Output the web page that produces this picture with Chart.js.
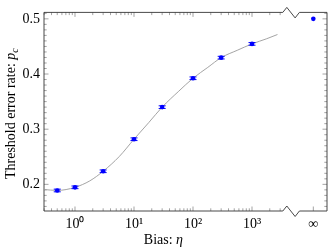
<!DOCTYPE html>
<html><head><meta charset="utf-8">
<script src="https://cdn.jsdelivr.net/npm/chart.js@4/dist/chart.umd.min.js"></script>
<style>html,body{margin:0;padding:0;background:#fff}</style>
</head><body>
<canvas id="c" width="335" height="250"></canvas>
<script>
// ---- data ----
const biasValues      = [0.5, 1, 3, 10, 30, 100, 300, 1000];
const thresholdRates  = [0.1889, 0.1946, 0.2237, 0.2818, 0.3400, 0.3923, 0.4297, 0.4546];
const thresholdErrors = [0.0024, 0.0024, 0.0024, 0.0024, 0.0024, 0.0024, 0.0024, 0.0024];
const infinityRate    = 0.5000;
const fitBias  = [0.3, 0.5, 1, 1.78, 3, 5.62, 10, 17.8, 30, 56.2, 100, 178, 300, 562, 1000, 1778, 2700];
const fitRates = [0.1906, 0.1890, 0.1946, 0.2063, 0.2237, 0.2504, 0.2818, 0.3120, 0.3400, 0.3680, 0.3923, 0.4120, 0.4297, 0.4430, 0.4546, 0.4640, 0.4716];
const xTickValues = [1, 10, 100, 1000];
const xTickLabels = ['10⁰', '10¹', '10²', '10³'];
const infinityLabel = '∞';
const yTickValues = [0.2, 0.3, 0.4, 0.5];
const INF_POSITION = 10940;   // axis position used for η = ∞ (after the break)
const BREAK_POSITION = 4600;  // axis position of the break
const X_MIN = 0.2983, X_MAX = 18660;
const Y_MIN = 0.1517, Y_MAX = 0.5117;
const yTitle = ['Threshold error rate: ', 'p', 'c'];
const xTitle = ['Bias: ', 'η'];

const FONT = 'Liberation Serif';
const FS = 14;

const pointData = biasValues.map((b, i) => ({x: b, y: thresholdRates[i]}));
const fitData = fitBias.map((b, i) => ({x: b, y: fitRates[i]}));

const decor = {
  id: 'decor',
  beforeDatasetsDraw(chart) {
    const ctx = chart.ctx, xs = chart.scales.x, ys = chart.scales.y;
    const {left, right, top, bottom} = chart.chartArea;
    const bx = xs.getPixelForValue(BREAK_POSITION);
    ctx.save();
    // ticks
    ctx.strokeStyle = '#666'; ctx.lineWidth = 0.6;
    const tick = (x1, y1, x2, y2) => { ctx.beginPath(); ctx.moveTo(x1, y1); ctx.lineTo(x2, y2); ctx.stroke(); };
    const MAJ = 4.5, MIN = 2.7;
    for (let k = -1; k <= 3; k++) {
      for (let m = 1; m <= 9; m++) {
        const v = m * Math.pow(10, k);
        if (v < X_MIN || v > BREAK_POSITION) continue;
        const px = xs.getPixelForValue(v);
        if (px > bx - 9) continue;
        const L = m === 1 ? MAJ : MIN;
        tick(px, bottom, px, bottom - L);
        tick(px, top, px, top + L);
      }
    }
    const ix = xs.getPixelForValue(INF_POSITION);
    tick(ix, bottom, ix, bottom - MAJ);
    for (let i = 16; i <= 51; i++) {
      const v = i / 100;
      if (v < Y_MIN || v > Y_MAX) continue;
      const py = ys.getPixelForValue(v);
      const L = i % 10 === 0 ? MAJ : MIN;
      tick(left, py, left + L, py);
      tick(right, py, right - L, py);
    }
    // frame with break
    ctx.strokeStyle = '#333'; ctx.lineWidth = 0.9;
    const edge = (y) => {
      ctx.beginPath();
      ctx.moveTo(left, y); ctx.lineTo(bx - 8.3, y);
      ctx.lineTo(bx - 4.3, y - 5); ctx.lineTo(bx + 4, y + 5.5); ctx.lineTo(bx + 8.3, y);
      ctx.lineTo(right, y); ctx.stroke();
    };
    edge(top); edge(bottom);
    ctx.beginPath(); ctx.moveTo(left, top); ctx.lineTo(left, bottom); ctx.stroke();
    ctx.beginPath(); ctx.moveTo(right, top); ctx.lineTo(right, bottom); ctx.stroke();

    // titles
    ctx.fillStyle = '#000';
    ctx.textBaseline = 'alphabetic';
    // x title
    ctx.font = FS + 'px "' + FONT + '"';
    const w1 = ctx.measureText(xTitle[0]).width;
    ctx.font = 'italic ' + FS + 'px "' + FONT + '"';
    const w2 = ctx.measureText(xTitle[1]).width;
    const cx = (left + bx - 8.3) / 2;
    let sx = cx - (w1 + w2) / 2;
    ctx.font = FS + 'px "' + FONT + '"';
    ctx.fillText(xTitle[0], sx, 243.5);
    ctx.font = 'italic ' + FS + 'px "' + FONT + '"';
    ctx.fillText(xTitle[1], sx + w1, 243.5);
    // y title
    ctx.save();
    ctx.translate(15, (top + bottom) / 2 + 2);
    ctx.rotate(-Math.PI / 2);
    ctx.font = FS + 'px "' + FONT + '"';
    const a = ctx.measureText(yTitle[0]).width;
    ctx.font = 'italic ' + FS + 'px "' + FONT + '"';
    const b = ctx.measureText(yTitle[1]).width;
    ctx.font = 'italic ' + (FS * 0.7) + 'px "' + FONT + '"';
    const c = ctx.measureText(yTitle[2]).width;
    let s = -(a + b + c) / 2;
    ctx.font = FS + 'px "' + FONT + '"';
    ctx.fillText(yTitle[0], s, 0);
    ctx.font = 'italic ' + FS + 'px "' + FONT + '"';
    ctx.fillText(yTitle[1], s + a, 0);
    ctx.font = 'italic ' + (FS * 0.7) + 'px "' + FONT + '"';
    ctx.fillText(yTitle[2], s + a + b, 2.5);
    ctx.restore();
    ctx.restore();
  },
  afterDatasetsDraw(chart) {
    const ctx = chart.ctx, xs = chart.scales.x, ys = chart.scales.y;
    ctx.save();
    ctx.strokeStyle = '#0000ff'; ctx.lineWidth = 1;
    biasValues.forEach((bv, i) => {
      const px = xs.getPixelForValue(bv);
      const y1 = ys.getPixelForValue(thresholdRates[i] - thresholdErrors[i]);
      const y2 = ys.getPixelForValue(thresholdRates[i] + thresholdErrors[i]);
      ctx.beginPath();
      ctx.moveTo(px, y1); ctx.lineTo(px, y2);
      ctx.moveTo(px - 3.5, y1); ctx.lineTo(px + 3.5, y1);
      ctx.moveTo(px - 3.5, y2); ctx.lineTo(px + 3.5, y2);
      ctx.stroke();
    });
    ctx.restore();
  }
};

new Chart(document.getElementById('c'), {
  type: 'scatter',
  data: {
    datasets: [
      { data: fitData, showLine: true, borderColor: '#9a9a9a', borderWidth: 0.9, pointRadius: 0, cubicInterpolationMode: 'monotone', order: 2 },
      { data: pointData, backgroundColor: '#0000ff', borderColor: '#0000ff', pointRadius: 2.3, borderWidth: 0, order: 1 },
      { data: [{x: INF_POSITION, y: infinityRate}], backgroundColor: '#0000ff', borderColor: '#0000ff', pointRadius: 2.3, borderWidth: 0, order: 1 }
    ]
  },
  options: {
    responsive: false, animation: false, devicePixelRatio: 1,
    layout: { padding: { top: 5, right: 8, left: 0, bottom: 0 } },
    plugins: { legend: { display: false }, tooltip: { enabled: false } },
    scales: {
      x: {
        type: 'logarithmic', min: X_MIN, max: X_MAX,
        grid: { display: false, drawTicks: false }, border: { display: false },
        afterBuildTicks: (s) => { s.ticks = xTickValues.concat([INF_POSITION]).map(v => ({value: v})); },
        afterFit: (s) => { s.height = 39; },
        ticks: {
          autoSkip: false, maxRotation: 0, padding: 5, color: '#000',
          font: { family: FONT, size: FS },
          callback: (v, i) => (i < xTickLabels.length ? xTickLabels[i] : infinityLabel)
        }
      },
      y: {
        min: Y_MIN, max: Y_MAX,
        grid: { display: false, drawTicks: false }, border: { display: false },
        afterBuildTicks: (s) => { s.ticks = yTickValues.map(v => ({value: v})); },
        afterFit: (s) => { s.width = 44; },
        ticks: { padding: 4, color: '#000', font: { family: FONT, size: FS }, callback: (v) => v.toFixed(1) }
      }
    }
  },
  plugins: [decor]
});
</script>
</body></html>
